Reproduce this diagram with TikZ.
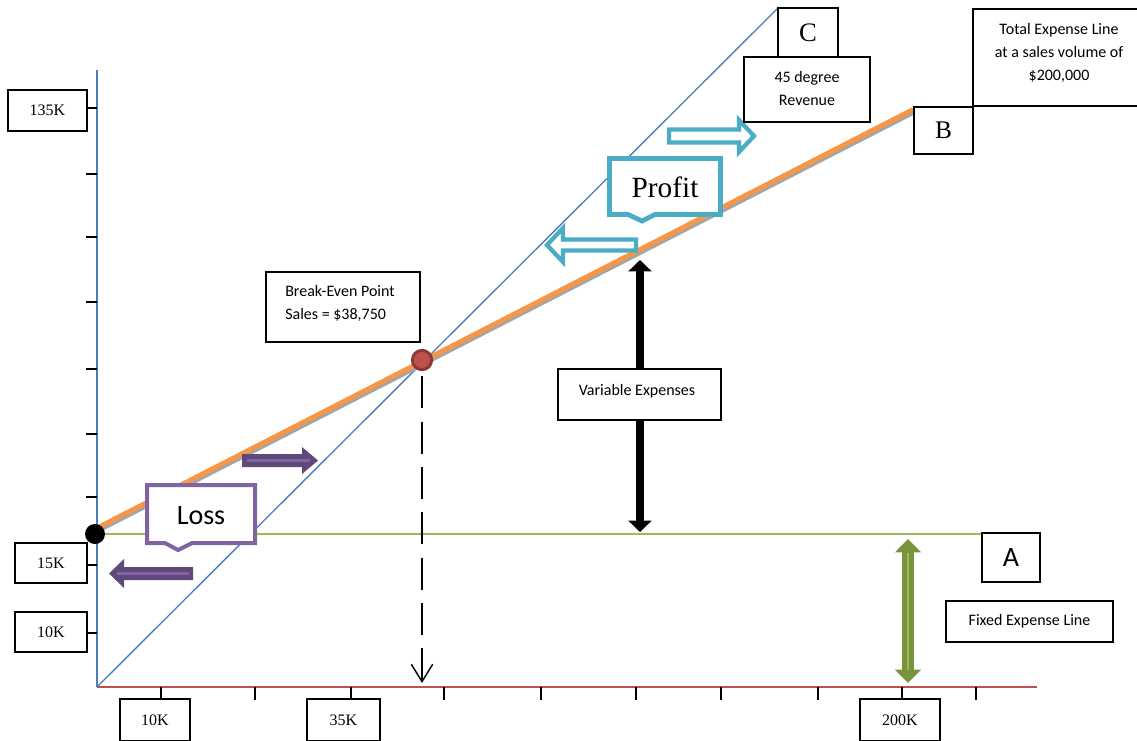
\documentclass[tikz,border=0pt]{standalone}
\usepackage{fontspec}
\setmainfont{Liberation Serif}
\newfontfamily\calib{Carlito}
\usetikzlibrary{arrows.meta}
\definecolor{axblue}{HTML}{4A7EBB}
\definecolor{axred}{HTML}{C0504D}
\definecolor{fixgreen}{HTML}{9BBB59}
\definecolor{orng}{HTML}{F79646}
\definecolor{shgrey}{HTML}{A5A5A5}
\definecolor{purp}{HTML}{5F497A}
\definecolor{purpl}{HTML}{8064A2}
\definecolor{cyanb}{HTML}{4BACC6}
\definecolor{oliveg}{HTML}{77933C}
\definecolor{bered}{HTML}{C0504D}
\definecolor{bedark}{HTML}{8C3836}
\tikzset{
  box/.style={draw=black, line width=0.9pt, fill=white, inner sep=0pt, align=center},
  serlab/.style={font=\fontsize{12}{14}\selectfont},
  callab/.style={font=\calib\fontsize{12}{17.25}\selectfont},
  tickline/.style={draw=black, line width=1pt},
}
\begin{document}
\begin{tikzpicture}[x=0.75pt,y=-0.75pt]
\useasboundingbox (0,0) rectangle (1137,740);
\clip (0,0) rectangle (1137,740);
% axes
\coordinate (O) at (97,687);
\coordinate (ytop) at (97,70);
\coordinate (xend) at (1037,687);
\draw[axblue, line width=1.3pt] (O) -- (ytop);
\draw[axred, line width=1.6pt] (O) -- (xend);
% ticks
\foreach \yy in {108,174,237,302,369,434,497,565,633} \draw[tickline] (86,\yy) -- (97,\yy);
\foreach \xx in {161,255,351,444,541,636,721,818,902,976} \draw[tickline] (\xx,687) -- (\xx,700);
% revenue line
\coordinate (revend) at (778,8);
\draw[axblue, line width=1pt] (O) -- (revend);
% fixed expense line
\coordinate (fixstart) at (97,533.5);
\coordinate (fixend) at (982,533.5);
\draw[fixgreen, line width=1.5pt] (fixstart) -- (fixend);
% total expense line
\coordinate (tes) at (97,528);
\coordinate (tee) at (913,109.5);
\draw[shgrey, line width=3.6pt] ([shift={(1,2.5)}]tes) -- ([shift={(1,2.5)}]tee);
\draw[orng, line width=3.6pt] (tes) -- (tee);
% black double arrow (variable expenses)
\coordinate (vtop) at (640,260);
\coordinate (vbot) at (640,532);
\draw[line width=6.5pt, {Triangle[length=8.5pt,width=17pt]}-{Triangle[length=8.5pt,width=17pt]}] (vtop) -- (vbot);
% green double arrow (fixed)
\coordinate (gtop) at (908,539);
\coordinate (gbot) at (908,683);
\draw[oliveg, line width=9.5pt, {Triangle[length=10pt,width=19pt]}-{Triangle[length=10pt,width=19pt]}] (gtop) -- (gbot);
\draw[fixgreen, line width=1.2pt] (908,553) -- (908,670);
% purple arrows
\fill[purp] (242,454) -- (302,454) -- (302,447) -- (318,460.5) -- (302,474) -- (302,467) -- (242,467) -- cycle;
\draw[purpl, line width=2pt] (247,460.5) -- (310,460.5);
\fill[purp] (193,567) -- (124,567) -- (124,559) -- (109,573.5) -- (124,588) -- (124,580) -- (193,580) -- cycle;
\draw[purpl, line width=2pt] (189,573.5) -- (117,573.5);
% cyan arrows
\draw[cyanb, line width=3.2pt, fill=white, line join=miter] (669,129.5) -- (739,129.5) -- (739,120) -- (754,136) -- (739,152) -- (739,142.5) -- (669,142.5) -- cycle;
\draw[cyanb, line width=3.2pt, fill=white, line join=miter] (636,239.5) -- (563,239.5) -- (563,228) -- (547,245) -- (563,262) -- (563,250.5) -- (636,250.5) -- cycle;
% callouts
\draw[cyanb, line width=3.6pt, fill=white, line join=miter] (609.5,158.5) -- (720.5,158.5) -- (720.5,214.5) -- (655,214.5) -- (642,221) -- (628,214.5) -- (609.5,214.5) -- cycle;
\node[font=\fontsize{22}{26}\selectfont] (profit) at (665,187) {Profit};
\draw[purpl, line width=3pt, fill=white, line join=miter] (147,485) -- (255,485) -- (255,543) -- (192,543) -- (178,550) -- (165,543) -- (147,543) -- cycle;
\node[font=\calib\fontsize{21}{25}\selectfont] (loss) at (201,516) {Loss};
% dashed arrow from break-even
\node[circle, fill=bered, draw=bedark, line width=2.2pt, minimum size=14.5pt, inner sep=0pt] (bep) at (422,360) {};
\coordinate (beaxis) at (422,683);
\draw[line width=1.1pt, dash pattern=on 24pt off 10pt, -{Straight Barb[length=13pt,width=16pt,line width=1.1pt]}] ([yshift=-4pt]bep.south) -- (beaxis);
% fixed cost dot
\node[circle, fill=black, minimum size=15pt, inner sep=0pt] (fc) at (95,534) {};
% y labels
\node[box, serlab, minimum width=59.25pt, minimum height=30.75pt] (y135) at (47.5,110.5) {135K};
\node[box, serlab, minimum width=54pt, minimum height=30pt] (y15) at (51,563) {15K};
\node[box, serlab, minimum width=54pt, minimum height=30pt] (y10) at (51,632) {10K};
% x labels
\node[box, serlab, minimum width=52.5pt, minimum height=31.5pt] (x10) at (155,720) {10K};
\node[box, serlab, minimum width=54.75pt, minimum height=31.5pt] (x35) at (343.5,720) {35K};
\node[box, serlab, minimum width=60pt, minimum height=31.5pt] (x200) at (900,720) {200K};
% break-even box
\node[box, minimum width=115.5pt, minimum height=52.5pt] (bebox) at (343,307) {};
\node[callab, anchor=west, align=left, inner sep=0pt] (betext) at (285,303.5) {Break-Even Point\\Sales = \$38,750};
% variable expenses
\node[box, callab, minimum width=122.25pt, minimum height=38.25pt] (vebox) at (639.5,394.5) {};
\node[callab, inner sep=0pt] (vetext) at (637,391) {Variable Expenses};
% C and 45 degree
\node[box, font=\fontsize{20}{24}\selectfont, minimum width=45pt, minimum height=36.75pt] (cbox) at (808,32.5) {C};
\node[box, callab, minimum width=94.5pt, minimum height=48.75pt] (revbox) at (807,89.5) {};
\node[callab, inner sep=0pt, align=center] (revtext) at (807,88.5) {45 degree\\Revenue};
% total expense box and B
\node[box, minimum width=132.75pt, minimum height=72.75pt] (tebox) at (1061.5,57.5) {};
\node[callab, inner sep=0pt, align=center] (tetext) at (1059,52.5) {Total Expense Line\\at a sales volume of\\\$200,000};
\node[box, font=\fontsize{19}{23}\selectfont, minimum width=44.25pt, minimum height=35.25pt] (bbox) at (943.5,130.5) {B};
% A and fixed expense
\node[box, font=\calib\fontsize{21}{25}\selectfont, minimum width=43.5pt, minimum height=36.75pt] (abox) at (1011,557.5) {A};
\node[box, callab, minimum width=125.25pt, minimum height=30.75pt] (febox) at (1029.5,621.5) {Fixed Expense Line};
\end{tikzpicture}
\end{document}
